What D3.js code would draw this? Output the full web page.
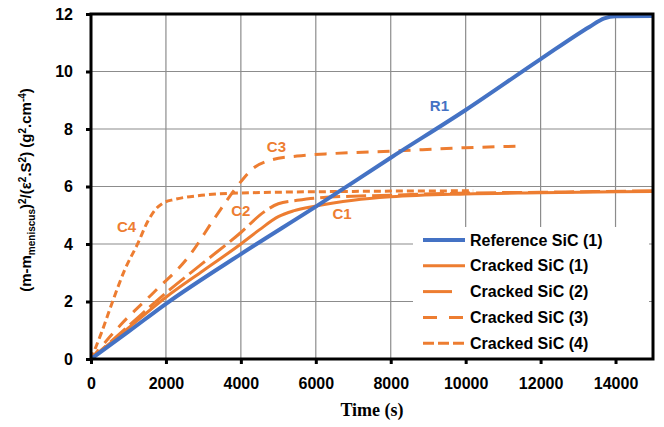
<!DOCTYPE html>
<html>
<head>
<meta charset="utf-8">
<script src="https://cdn.jsdelivr.net/npm/d3@7"></script>
<style>
  body { margin: 0; background: #fff; }
  svg { display: block; }
</style>
</head>
<body>
<script>
// ---- data ----
var xTicks = [0, 2000, 4000, 6000, 8000, 10000, 12000, 14000];
var yTicks = [0, 2, 4, 6, 8, 10, 12];

var r1Time  = [0, 1000, 2000, 4000, 6000, 8000, 10000, 12000, 13300, 13700, 14000, 15000];
var r1Value = [0, 0.95, 1.92, 3.65, 5.3, 7.0, 8.66, 10.43, 11.55, 11.85, 11.92, 11.93];

var c1Time  = [0, 1000, 2000, 3000, 4000, 4500, 5000, 5400, 6000, 7000, 8000, 10000, 12000, 15000];
var c1Value = [0, 1.08, 2.15, 3.08, 4.0, 4.5, 4.95, 5.15, 5.32, 5.52, 5.64, 5.74, 5.78, 5.83];

var c2Time  = [0, 1000, 2000, 3000, 4000, 4600, 5000, 5500, 6000, 8000, 10000, 12000, 15000];
var c2Value = [0, 1.15, 2.3, 3.35, 4.4, 5.1, 5.4, 5.52, 5.6, 5.7, 5.77, 5.8, 5.85];

var c3Time  = [0, 800, 1700, 2600, 3300, 4000, 4300, 4800, 5500, 6500, 8000, 10000, 11350];
var c3Value = [0, 1.2, 2.35, 3.55, 4.9, 6.17, 6.6, 6.92, 7.06, 7.15, 7.23, 7.35, 7.4];

var c4Time  = [0, 275, 590, 900, 1250, 1520, 1720, 1920, 2230, 2850, 3650, 5000, 7000, 10200];
var c4Value = [0, 0.9, 2.05, 3.1, 4.02, 4.8, 5.2, 5.42, 5.55, 5.68, 5.76, 5.8, 5.83, 5.85];

var seriesNames = ["Reference SiC (1)", "Cracked SiC (1)", "Cracked SiC (2)", "Cracked SiC (3)", "Cracked SiC (4)"];
var curveLabels = ["R1", "C1", "C2", "C3", "C4"];
var labelTime   = [9300, 6700, 4000, 4950, 950];
var labelValue  = [8.8, 5.05, 5.15, 7.4, 4.6];

var blue = "#4472C4", orange = "#ED7D31";

var series = [
  {name: seriesNames[0], t: r1Time, v: r1Value, color: blue,   width: 4, dash: null},
  {name: seriesNames[1], t: c1Time, v: c1Value, color: orange, width: 3, dash: null},
  {name: seriesNames[2], t: c2Time, v: c2Value, color: orange, width: 3, dash: "20,6"},
  {name: seriesNames[3], t: c3Time, v: c3Value, color: orange, width: 3, dash: "12,9"},
  {name: seriesNames[4], t: c4Time, v: c4Value, color: orange, width: 3, dash: "7,4"}
];
var legendDash = [null, null, "29,40", "14,12", "11,4"];

var W = 664, H = 427;
var margin = {top: 14, right: 11, bottom: 68, left: 91};
var width = W - margin.left - margin.right,
    height = H - margin.top - margin.bottom;

var svg = d3.select("body").append("svg").attr("width", W).attr("height", H);

var x = d3.scaleLinear().domain([0, 15000]).range([0, width]),
    y = d3.scaleLinear().domain([0, 12]).range([height, 0]);

var g = svg.append("g").attr("transform", "translate(" + margin.left + "," + margin.top + ")");

g.append("defs").append("clipPath").attr("id", "clip")
  .append("rect").attr("width", width).attr("height", height);

// gridlines
g.append("g").selectAll("line").data(xTicks.slice(1))
  .enter().append("line")
    .attr("x1", function(d) { return x(d); }).attr("x2", function(d) { return x(d); })
    .attr("y1", 0).attr("y2", height)
    .style("stroke", "#8c8c8c").style("stroke-width", 1.2);
g.append("g").selectAll("line").data(yTicks.slice(1, -1))
  .enter().append("line")
    .attr("y1", function(d) { return y(d); }).attr("y2", function(d) { return y(d); })
    .attr("x1", 0).attr("x2", width)
    .style("stroke", "#8c8c8c").style("stroke-width", 1.2);

// series lines
var line = d3.line().curve(d3.curveMonotoneX)
  .x(function(d) { return x(d[0]); })
  .y(function(d) { return y(d[1]); });

var plot = g.append("g").attr("clip-path", "url(#clip)");
series.slice().reverse().forEach(function(s) {
  plot.append("path")
    .datum(d3.zip(s.t, s.v))
    .attr("d", line)
    .style("fill", "none")
    .style("stroke", s.color)
    .style("stroke-width", s.width)
    .style("stroke-dasharray", s.dash)
    .style("stroke-linejoin", "round");
});

// curve labels
g.selectAll(".clabel").data(curveLabels)
  .enter().append("text")
    .attr("class", "clabel")
    .attr("x", function(d, i) { return x(labelTime[i]); })
    .attr("y", function(d, i) { return y(labelValue[i]); })
    .attr("text-anchor", "middle")
    .attr("dy", "0.35em")
    .style("font-family", "'Liberation Sans', Arial, sans-serif")
    .style("font-weight", "bold")
    .style("font-size", "15px")
    .style("fill", function(d, i) { return i === 0 ? blue : orange; })
    .text(function(d) { return d; });

// legend
var leg = g.append("g").attr("transform", "translate(" + (413 - margin.left) + "," + (227 - margin.top) + ")");
leg.append("rect").attr("width", 236).attr("height", 131).style("fill", "#fff");
series.forEach(function(s, i) {
  var ly = 13 + i * 25.8;
  leg.append("line")
    .attr("x1", 10).attr("x2", 52).attr("y1", ly).attr("y2", ly)
    .style("stroke", s.color).style("stroke-width", s.width)
    .style("stroke-dasharray", legendDash[i]);
  leg.append("text")
    .attr("x", 57).attr("y", ly).attr("dy", "0.35em")
    .style("font-family", "'Liberation Sans', Arial, sans-serif")
    .style("font-weight", "bold")
    .style("font-size", "16px")
    .style("fill", "#000")
    .text(s.name);
});

// frame
g.append("rect").attr("width", width).attr("height", height)
  .style("fill", "none").style("stroke", "#000").style("stroke-width", 3);

// axes
var xAxis = g.append("g").attr("transform", "translate(0," + height + ")")
  .call(d3.axisBottom(x).tickValues(xTicks).tickSize(5).tickPadding(14).tickFormat(d3.format("d")));
var yAxis = g.append("g")
  .call(d3.axisLeft(y).tickValues(yTicks).tickSize(5).tickPadding(13).tickFormat(d3.format("d")));
[xAxis, yAxis].forEach(function(a) {
  a.select(".domain").remove();
  a.selectAll("line").style("stroke", "#000").style("stroke-width", 3);
  a.selectAll("text")
    .style("font-family", "'Liberation Sans', Arial, sans-serif")
    .style("font-weight", "bold")
    .style("font-size", "16px")
    .style("fill", "#000");
});

// axis titles
svg.append("text")
  .attr("x", 372).attr("y", 416)
  .attr("text-anchor", "middle")
  .style("font-family", "'Liberation Serif', 'Times New Roman', serif")
  .style("font-weight", "bold")
  .style("font-size", "18px")
  .text("Time (s)");

var yt = svg.append("text")
  .attr("transform", "translate(31,190) rotate(-90)")
  .attr("text-anchor", "middle")
  .style("font-family", "'Liberation Sans', Arial, sans-serif")
  .style("font-weight", "bold")
  .style("font-size", "15px");
var parts = [
  ["(m-m", 0, null], ["meniscus", 4, 10], [")", -4, null], ["2", -5, 10], ["/(\u03b5", 5, null],
  ["2", -5, 10], [".S", 5, null], ["2", -5, 10], [") (g", 5, null], ["2", -5, 10],
  [".cm", 5, null], ["-4", -5, 10], [")", 5, null]
];
parts.forEach(function(p) {
  var t = yt.append("tspan").attr("dy", p[1]).text(p[0]);
  if (p[2]) t.style("font-size", p[2] + "px");
});
</script>
</body>
</html>
